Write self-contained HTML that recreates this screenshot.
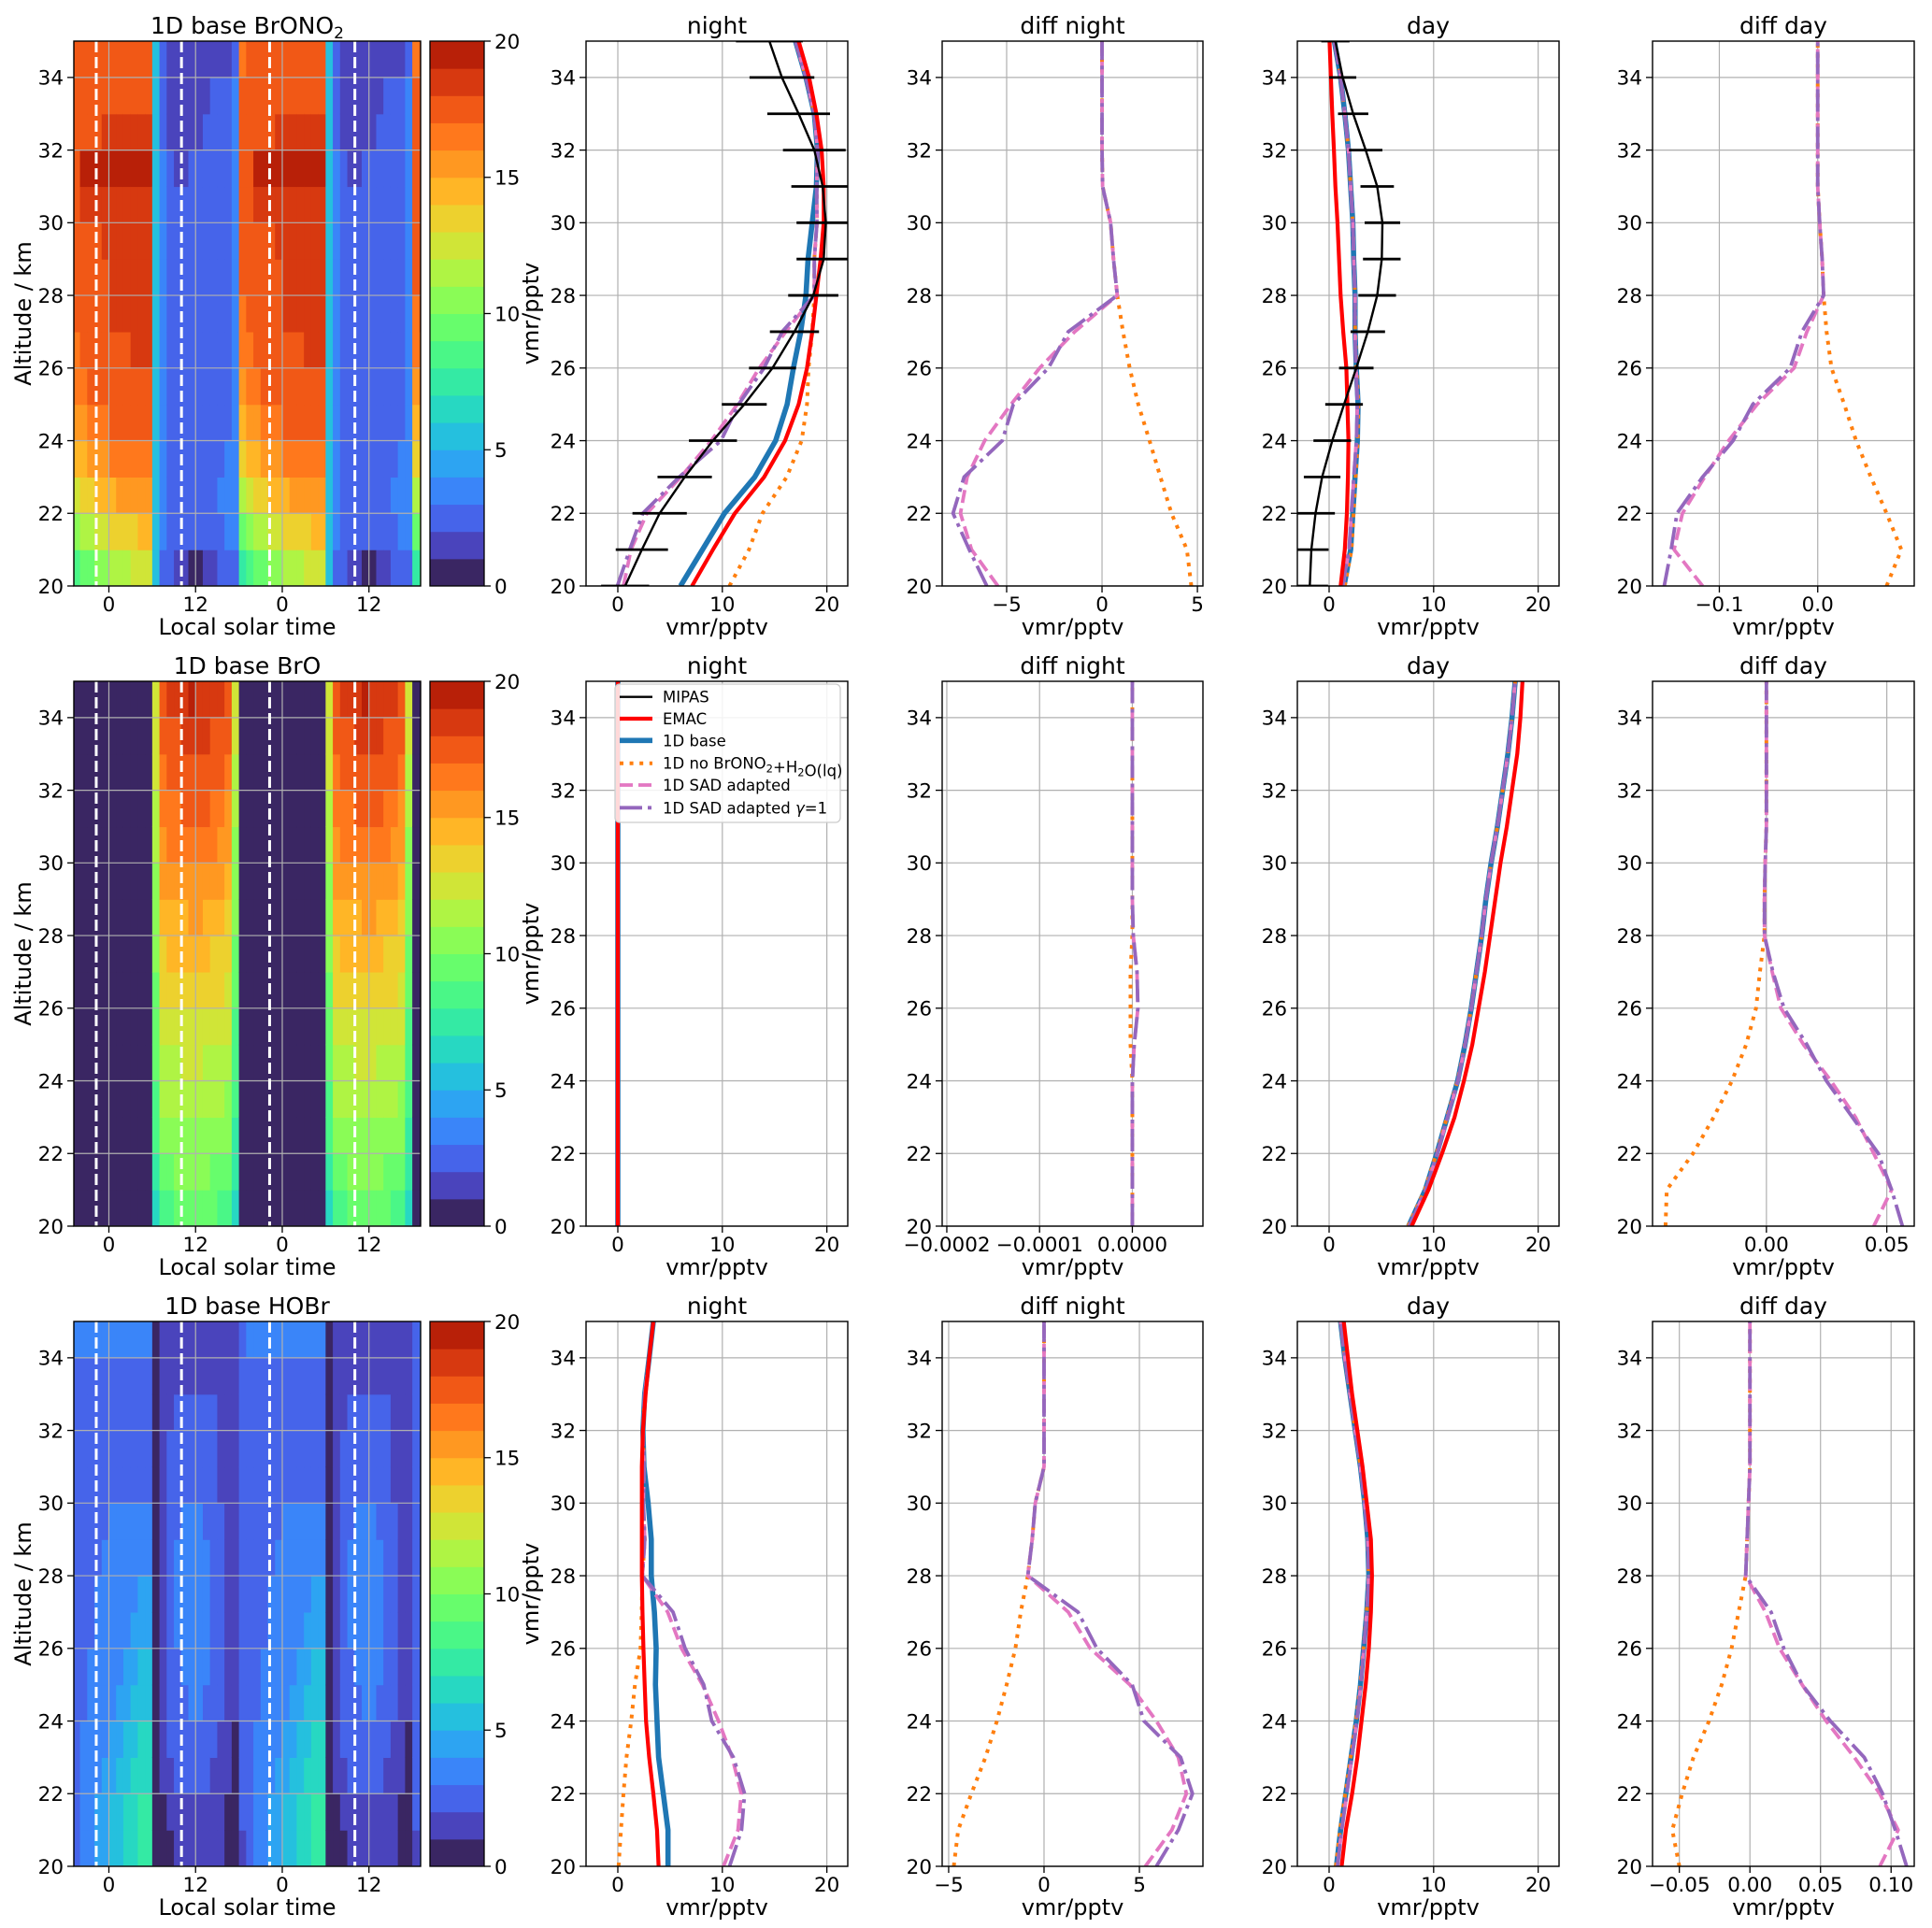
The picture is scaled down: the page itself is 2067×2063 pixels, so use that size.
<!DOCTYPE html>
<html><head><meta charset="utf-8"><title>Bromine profiles</title>
<style>
html,body{margin:0;padding:0;background:#fff;}
#fig{display:block;}
text{font-family:"DejaVu Sans","Liberation Sans",sans-serif;fill:#000;}
</style></head>
<body>
<svg id="fig" xmlns="http://www.w3.org/2000/svg" width="2067" height="2063" viewBox="0 0 2067 2063">
<rect x="0" y="0" width="2067" height="2063" fill="#fff"/>
</svg>
<script>
// ---------------- data ----------------
const alt = [20,21,22,23,24,25,26,27,28,29,30,31,32,33,34,35];
const speciesNames = ['BrONO2','BrO','HOBr'];

// BrONO2 night
const brono2NightMipas = [0.7,2.3,4.0,6.4,9.1,12.1,14.8,16.9,18.7,19.7,19.9,19.6,18.8,17.3,15.7,14.5];
const brono2NightMipasErr = [2.3,2.5,2.6,2.6,2.3,2.15,2.25,2.35,2.4,2.6,2.8,3.0,3.0,3.0,3.1,3.2];
const brono2NightEmac = [7.1,9.1,11.2,14.0,16.0,17.3,18.1,18.6,19.0,19.4,19.7,19.7,19.5,19.0,18.3,17.3];
const brono2NightBase = [6.0,8.1,10.2,13.1,15.1,16.2,16.8,17.5,18.0,18.2,18.6,19.0,19.1,18.8,18.0,17.0];
const brono2NightDiffNoH2O = [4.68,4.45,3.64,3.06,2.49,1.9,1.45,1.1,0.8,0.6,0.45,0.03,0,0,0,0];
const brono2NightDiffSad = [-5.46,-6.84,-7.42,-7.07,-6.15,-4.77,-3.27,-1.43,0.8,0.6,0.45,0.03,0,0,0,0];
const brono2NightDiffSadG1 = [-6.04,-6.96,-7.81,-7.23,-5.23,-4.65,-2.81,-1.77,0.8,0.6,0.45,0.03,0,0,0,0];
// BrONO2 day
const brono2DayMipas = [-1.85,-1.7,-1.3,-0.67,0.3,1.43,2.6,3.7,4.6,5.04,5.1,4.6,3.5,2.3,1.3,0.6];
const brono2DayMipasErr = [1.75,1.65,1.85,1.75,1.8,1.8,1.65,1.65,1.8,1.8,1.7,1.6,1.6,1.45,1.3,1.35];
const brono2DayEmac = [1.1,1.5,1.7,1.8,1.85,1.75,1.65,1.35,1.1,0.95,0.8,0.6,0.46,0.3,0.17,0.04];
const brono2DayBase = [1.43,2.06,2.27,2.48,2.7,2.77,2.6,2.48,2.48,2.35,2.27,2.06,1.85,1.5,1.1,0.5];
const brono2DayDiffNoH2O = [0.070,0.085,0.070,0.054,0.039,0.027,0.014,0.009,0.006,0.0045,0.002,0,0,0,0,0];
const brono2DayDiffSad = [-0.117,-0.146,-0.1375,-0.115,-0.0906,-0.0616,-0.024,-0.011,0.006,0.0045,0.002,0,0,0,0,0];
const brono2DayDiffSadG1 = [-0.156,-0.149,-0.143,-0.117,-0.086,-0.066,-0.028,-0.016,0.006,0.0045,0.002,0,0,0,0,0];

// BrO night
const broNightEmac = [0,0,0,0,0,0,0,0,0,0,0,0,0,0,0,0];
const broNightBase = [0,0,0,0,0,0,0,0,0,0,0,0,0,0,0,0];
const broNightDiffNoH2O = [0,0,0,0,0,-0.000002,-0.000002,-0.000002,0,0,0,0,0,0,0,0];
const broNightDiffSad = [0,0,0,0,0,0.000002,0.000006,0.000005,0.000001,0,0,0,0,0,0,0];
const broNightDiffSadG1 = [0,0,0,0,0,0.000002,0.000006,0.000005,0.000001,0,0,0,0,0,0,0];
// BrO day
const broDayEmac = [7.9,9.5,10.8,12.0,12.9,13.7,14.3,14.9,15.4,15.9,16.4,17.0,17.5,18.0,18.3,18.5];
const broDayBase = [7.6,9.2,10.3,11.3,12.3,13.0,13.6,14.1,14.6,15.0,15.5,16.1,16.6,17.1,17.5,17.8];
const broDayDiffNoH2O = [-0.0419,-0.0414,-0.0305,-0.0219,-0.0143,-0.0084,-0.0043,-0.0027,-0.0008,-0.0008,-0.0005,0,0,0,0,0];
const broDayDiffSad = [0.0446,0.052,0.0446,0.037,0.0268,0.0154,0.006,0.0024,-0.0008,-0.0008,-0.0005,0,0,0,0,0];
const broDayDiffSadG1 = [0.0565,0.052,0.0465,0.0357,0.0249,0.0168,0.0073,0.0027,-0.0008,-0.0008,-0.0005,0,0,0,0,0];

// HOBr night
const hobrNightEmac = [3.9,3.75,3.4,3.0,2.7,2.57,2.45,2.36,2.3,2.3,2.3,2.3,2.4,2.66,3.0,3.4];
const hobrNightBase = [4.8,4.8,4.35,3.9,3.75,3.6,3.67,3.5,3.2,3.2,2.9,2.5,2.4,2.57,3.0,3.4];
const hobrNightDiffNoH2O = [-4.73,-4.5,-3.81,-3.07,-2.47,-1.96,-1.5,-1.22,-0.85,-0.62,-0.46,0,0,0,0,0];
const hobrNightDiffSad = [5.31,6.7,7.46,7.04,5.89,4.5,2.42,1.27,-0.85,-0.62,-0.46,0,0,0,0,0];
const hobrNightDiffSadG1 = [5.89,7.04,7.78,7.16,5.24,4.62,2.77,1.78,-0.85,-0.62,-0.46,0,0,0,0,0];
// HOBr day
const hobrDayEmac = [1.2,1.6,2.2,2.7,3.1,3.5,3.8,4.0,4.1,4.0,3.6,3.2,2.7,2.2,1.8,1.4];
const hobrDayBase = [0.7,1.1,1.6,2.1,2.6,3.0,3.3,3.6,3.8,3.7,3.4,3.0,2.5,2.0,1.5,1.1];
const hobrDayDiffNoH2O = [-0.05,-0.055,-0.048,-0.04,-0.029,-0.02,-0.013,-0.008,-0.003,-0.002,-0.001,0,0,0,0,0];
const hobrDayDiffSad = [0.092,0.105,0.092,0.074,0.054,0.037,0.021,0.011,-0.003,-0.002,-0.001,0,0,0,0,0];
const hobrDayDiffSadG1 = [0.111,0.103,0.094,0.081,0.057,0.037,0.024,0.015,-0.003,-0.002,-0.001,0,0,0,0,0];

// diurnal contour fields: rows = altitude bins 20-21 ... 34-35, columns = local hour 0..23
const brono2Field = [
[11,11,11,12,12,12,5,2,2,1,1,0,0,1,1,2,2,2,7,8,9,9,10,10],
[13,13,13,13,14,14,5,3,2,2,2,2,2,2,2,2,3,3,9,10,11,11,12,12],
[14,15,15,15,15,15,5,3,2,2,2,2,2,2,2,3,3,3,11,12,13,13,14,14],
[16,16,16,16,16,16,5,3,2,2,2,2,2,2,2,2,3,3,13,14,14,15,15,15],
[17,17,17,17,17,17,5,3,2,2,2,2,2,2,2,2,2,3,14,15,15,16,16,16],
[17,17,17,17,17,17,5,3,2,2,2,2,2,2,2,2,2,3,15,16,16,17,17,17],
[17,17,17,18,18,18,5,3,2,2,2,2,2,2,2,2,2,3,16,16,17,17,17,17],
[18,18,18,18,18,18,5,3,2,2,2,2,2,2,2,2,2,3,16,17,17,17,17,17],
[18,18,18,18,18,18,5,3,2,2,2,2,2,2,2,2,2,3,17,17,17,17,17,17],
[18,18,18,18,18,18,5,3,2,2,2,2,2,2,2,2,2,3,17,17,17,17,17,18],
[18,18,18,18,18,18,5,3,2,2,2,2,2,2,2,2,2,3,17,17,18,18,18,18],
[19,19,19,19,19,19,5,3,2,1,1,2,2,2,2,2,2,3,17,17,19,19,19,19],
[18,18,18,18,18,18,5,2,1,1,1,1,1,2,2,2,2,3,17,17,17,17,17,18],
[17,17,17,17,17,17,5,2,1,1,1,1,1,1,2,2,2,3,17,17,17,17,17,17],
[17,17,17,17,17,17,5,2,1,1,1,1,1,1,1,1,1,2,16,17,17,17,17,17]];
const broField = [
[0,0,0,0,0,0,6,8,8,9,9,9,9,9,9,8,8,6,0,0,0,0,0,0],
[0,0,0,0,0,0,7,9,9,10,10,10,10,10,9,9,9,7,0,0,0,0,0,0],
[0,0,0,0,0,0,8,10,10,10,10,10,10,10,10,10,10,7,0,0,0,0,0,0],
[0,0,0,0,0,0,8,11,11,11,11,11,11,11,11,11,10,8,0,0,0,0,0,0],
[0,0,0,0,0,0,9,11,11,11,12,12,12,11,11,11,11,8,0,0,0,0,0,0],
[0,0,0,0,0,0,9,12,12,12,12,12,12,12,12,12,12,8,0,0,0,0,0,0],
[0,0,0,0,0,0,9,13,13,13,13,13,13,13,13,13,12,9,0,0,0,0,0,0],
[0,0,0,0,0,0,10,13,14,14,14,14,14,14,13,13,13,9,0,0,0,0,0,0],
[0,0,0,0,0,0,10,14,14,14,14,15,15,14,14,14,13,10,0,0,0,0,0,0],
[0,0,0,0,0,0,10,15,15,15,15,15,15,15,15,15,14,10,0,0,0,0,0,0],
[0,0,0,0,0,0,11,15,16,16,16,16,16,16,16,15,15,10,0,0,0,0,0,0],
[0,0,0,0,0,0,11,16,16,16,17,17,17,17,16,16,15,11,0,0,0,0,0,0],
[0,0,0,0,0,0,12,16,17,17,17,17,17,17,17,17,16,11,0,0,0,0,0,0],
[0,0,0,0,0,0,12,17,17,17,18,18,18,18,17,17,17,12,0,0,0,0,0,0],
[0,0,0,0,0,0,12,17,18,18,18,19,18,18,18,18,17,12,0,0,0,0,0,0]];
const hobrField = [
[5,5,6,6,7,7,0,0,0,1,1,1,1,1,1,1,0,0,1,2,3,3,4,4],
[5,5,6,6,7,7,0,0,1,1,1,1,1,1,1,1,0,0,2,2,3,3,4,4],
[4,5,5,6,6,6,0,1,1,2,2,2,2,2,1,1,1,0,2,2,3,3,3,4],
[4,4,5,5,6,6,0,1,2,2,2,2,2,2,2,1,1,0,2,2,3,3,3,3],
[3,4,4,5,5,5,0,1,2,2,2,3,3,2,2,2,1,1,2,2,2,3,3,3],
[3,3,4,4,5,5,0,1,2,2,3,3,3,3,2,2,1,1,2,2,2,3,3,3],
[3,3,3,4,4,4,0,1,2,3,3,3,3,3,2,2,1,1,2,2,2,2,3,3],
[3,3,3,3,4,4,0,1,2,3,3,3,3,3,2,2,1,1,2,2,2,2,3,3],
[3,3,3,3,3,3,0,1,2,3,3,3,3,3,2,2,1,1,2,2,2,2,2,3],
[3,3,3,3,3,3,0,1,2,2,3,3,3,2,2,2,1,1,2,2,2,2,2,2],
[2,2,2,2,2,2,0,1,2,2,2,2,2,2,2,1,1,1,2,2,2,2,2,2],
[2,2,2,2,2,2,0,1,2,2,2,2,2,2,2,1,1,1,2,2,2,2,2,2],
[2,2,2,2,2,2,0,1,1,2,2,2,2,2,2,1,1,1,2,2,2,2,2,2],
[2,2,2,2,2,2,0,1,1,1,1,1,1,1,1,1,1,1,2,2,2,2,2,2],
[3,3,3,3,3,3,0,1,1,1,1,1,1,1,1,1,1,1,2,3,3,3,3,3]];
const dashedTimes = [-1.75,10.05,22.25,34.05];
const timeTicks = [0,12,24,36];
const timeTickLabels = ['0','12','0','12'];
const altTicks = [20,22,24,26,28,30,32,34];
const cbarTicks = [0,5,10,15,20];
const profTicks = [0,10,20];
const dnTicksR1 = [-5,0,5], dnLabelsR1 = ['\u22125','0','5'];
const ddTicksR1 = [-0.1,0.0], ddLabelsR1 = ['\u22120.1','0.0'];
const dnTicksR2 = [-0.0002,-0.0001,0], dnLabelsR2 = ['\u22120.0002','\u22120.0001','0.0000'];
const ddTicksR2 = [0,0.05], ddLabelsR2 = ['0.00','0.05'];
const dnTicksR3 = [-5,0,5], dnLabelsR3 = ['\u22125','0','5'];
const ddTicksR3 = [-0.05,0,0.05,0.1], ddLabelsR3 = ['\u22120.05','0.00','0.05','0.10'];

// ---------------- layout ----------------
const NS = 'http://www.w3.org/2000/svg';
const svg = document.getElementById('fig');
const ROWS = [44,729,1414], AH = 583;
const COL = {contour:[79,450], cbar:[460,518], night:[627,907], dn:[1008,1287], day:[1388,1668], dd:[1768,2048]};
const TLIM = [-4.85,43.15];
const PLIM = [-3.04,22.0];
const DNLIM = [[-8.38,5.29],[-0.000205,0.0000761],[-5.34,8.33]];
const DDLIM = [[-0.1679,0.0981],[-0.0473,0.0614],[-0.069,0.1164]];
const C = {mipas:'#000000', emac:'#ff0000', base:'#1f77b4', noh2o:'#ff7f0e', sad:'#e377c2', sadg1:'#9467bd'};
let clipId = 0;

function el(tag, attrs, parent){
  const e = document.createElementNS(NS, tag);
  for (const k in attrs) e.setAttribute(k, attrs[k]);
  (parent || svg).appendChild(e);
  return e;
}
function turbo(t){
  t = Math.max(0, Math.min(1, t));
  const r = 0.13572138 + t*(4.61539260 + t*(-42.66032258 + t*(132.13108234 + t*(-152.94239396 + t*59.28637943))));
  const g = 0.09140261 + t*(2.19418839 + t*(4.84296658 + t*(-14.18503333 + t*(4.27729857 + t*2.82956604))));
  const b = 0.10667330 + t*(12.64194608 + t*(-60.58204836 + t*(110.36276771 + t*(-89.90310912 + t*27.34824973))));
  const c = v => Math.round(Math.max(0, Math.min(1, v))*255);
  return 'rgb(' + c(r) + ',' + c(g) + ',' + c(b) + ')';
}
function levelColor(i){ return turbo(0.025 + i * 0.046); }
function yScale(top){ return a => top + (35 - a) / 15 * AH; }
function xScale(col, lim){ return v => col[0] + (v - lim[0]) / (lim[1] - lim[0]) * (col[1] - col[0]); }

function text(str, x, y, size, anchor, parent){
  const t = el('text', {x:x, y:y, 'font-size':size, 'text-anchor':anchor || 'middle'}, parent);
  t.textContent = str;
  return t;
}
function makeClip(x0, y0, w, h){
  const id = 'clip' + (clipId++);
  const cp = el('clipPath', {id:id});
  el('rect', {x:x0, y:y0, width:w, height:h}, cp);
  return id;
}
function title(parts, cx, top, nm){
  const t = el('text', {x:cx, y:top - 8, 'font-size':25, 'text-anchor':'middle'});
  
  
  parts.forEach(p => {
    const s = el('tspan', p.sub ? {'font-size':17, dy:5} : {dy:0}, t);
    s.textContent = p.t;
  });
}
function yAxis(x0, top, g){
  const y = yScale(top);
  altTicks.forEach(a => {
    const tk = el('line', {x1:x0 - 7, x2:x0, y1:y(a), y2:y(a), stroke:'#000', 'stroke-width':1.3}, g);
    
    
    const lb = text(String(a), x0 - 11, y(a) + 7.8, 21.5, 'end', g);
    
    
  });
}
function xAxis(xs, ticks, labels, bottom, g){
  ticks.forEach((v, i) => {
    const x = xs(v);
    const tk = el('line', {x1:x, x2:x, y1:bottom, y2:bottom + 7, stroke:'#000', 'stroke-width':1.3}, g);
    
    
    const lb = text(labels[i], x, bottom + 27, 21.5, 'middle', g);
    
    
  });
}
function grid(col, top, xs, xticks, g){
  const y = yScale(top);
  xticks.forEach(v => {
    const ln = el('line', {x1:xs(v), x2:xs(v), y1:top, y2:top + AH, stroke:'#b0b0b0', 'stroke-width':1.2}, g);
    
    
  });
  altTicks.forEach(a => {
    const ln = el('line', {x1:col[0], x2:col[1], y1:y(a), y2:y(a), stroke:'#b0b0b0', 'stroke-width':1.2}, g);
    
    
  });
}
function frame(col, top, g){
  const f = el('rect', {x:col[0], y:top, width:col[1] - col[0], height:AH, fill:'none', stroke:'#000', 'stroke-width':1.4}, g);
  
  
}
const STYLE = {
  mipas:{w:2.4, dash:null},
  emac:{w:4.2, dash:null},
  base:{w:5.6, dash:null},
  noh2o:{w:4, dash:'4,6.6'},
  sad:{w:3.8, dash:'14,6'},
  sadg1:{w:3.8, dash:'24,6,4,6'}
};
function series(vals, key, xs, y, g, nm){
  const pts = vals.map((v, i) => xs(v).toFixed(2) + ',' + y(alt[i]).toFixed(2)).join(' ');
  const s = STYLE[key];
  const a = {points:pts, fill:'none', stroke:C[key], 'stroke-width':s.w, 'stroke-linejoin':'round'};
  if (s.dash) a['stroke-dasharray'] = s.dash;
  const p = el('polyline', a, g);
  
  
  return p;
}
function addArr(a, b){ return a.map((v, i) => v + b[i]); }

// ---------- contour panel ----------
function contourPanel(r, field, nameParts, sp){
  const top = ROWS[r], bottom = top + AH, col = COL.contour;
  const xs = xScale(col, TLIM), y = yScale(top);
  const g = el('g', {});
  
  
  const cid = makeClip(col[0], top, col[1] - col[0], AH);
  const fg = el('g', {'clip-path':'url(#' + cid + ')'}, g);
  for (let d = -1; d <= 1; d++){
    for (let h = 0; h < 24; h++){
      const x0 = xs(d*24 + h), x1 = xs(d*24 + h + 1);
      if (x1 < col[0] || x0 > col[1]) continue;
      for (let k = 0; k < field.length; k++){
        const v = field[k][h];
        const c = el('rect', {x:x0, y:y(21 + k), width:x1 - x0 + 0.6, height:y(20 + k) - y(21 + k) + 0.6, fill:levelColor(v)}, fg);
        
        
      }
    }
  }
  grid(col, top, xs, timeTicks, fg);
  dashedTimes.forEach(t => {
    const ln = el('line', {x1:xs(t), x2:xs(t), y1:top, y2:bottom, stroke:'#fff', 'stroke-width':3, 'stroke-dasharray':'12,5'}, fg);
    
    
  });
  frame(col, top, g);
  yAxis(col[0], top, g);
  xAxis(xs, timeTicks, timeTickLabels, bottom, g);
  const xl = text('Local solar time', (col[0] + col[1]) / 2, bottom + 52, 24, 'middle', g);
  
  
  const yl = el('text', {x:0, y:0, 'font-size':24, 'text-anchor':'middle', transform:'translate(33,' + (top + AH/2) + ') rotate(-90)'}, g);
  yl.textContent = 'Altitude / km';
  
  
  title(nameParts, (col[0] + col[1]) / 2, top, 'contour-title-' + sp);
  // colorbar
  const cb = COL.cbar;
  const cg = el('g', {}, g);
  
  
  const cy = v => bottom - v / 20 * AH;
  for (let i = 0; i < 20; i++){
    const b = el('rect', {x:cb[0], y:cy(i + 1), width:cb[1] - cb[0], height:cy(i) - cy(i + 1) + 0.5, fill:levelColor(i)}, cg);
    
    
  }
  el('rect', {x:cb[0], y:top, width:cb[1] - cb[0], height:AH, fill:'none', stroke:'#000', 'stroke-width':1.3}, cg);
  cbarTicks.forEach(v => {
    const tk = el('line', {x1:cb[1], x2:cb[1] + 7, y1:cy(v), y2:cy(v), stroke:'#000', 'stroke-width':1.3}, cg);
    
    
    const lb = text(String(v), cb[1] + 11, cy(v) + 7.8, 21.5, 'start', cg);
    
    
  });
  const cl = el('text', {x:0, y:0, 'font-size':24, 'text-anchor':'middle', transform:'translate(576,' + (top + AH/2) + ') rotate(-90)'}, cg);
  cl.textContent = 'vmr/pptv';
  
  
}

// ---------- profile panel ----------
function profilePanel(r, colKey, lim, ticks, labels, ttl, sp, lines){
  const top = ROWS[r], bottom = top + AH, col = COL[colKey];
  const xs = xScale(col, lim), y = yScale(top);
  const g = el('g', {});
  
  
  el('rect', {x:col[0], y:top, width:col[1] - col[0], height:AH, fill:'#fff'}, g);
  grid(col, top, xs, ticks, g);
  const cid = makeClip(col[0], top, col[1] - col[0], AH);
  const lg = el('g', {'clip-path':'url(#' + cid + ')'}, g);
  lines(xs, y, lg);
  frame(col, top, g);
  yAxis(col[0], top, g);
  xAxis(xs, ticks, labels, bottom, g);
  const xl = text('vmr/pptv', (col[0] + col[1]) / 2, bottom + 52, 24, 'middle', g);
  
  
  const t = text(ttl, (col[0] + col[1]) / 2, top - 8, 25, 'middle', g);
  
  
  return g;
}
function mipasDraw(vals, errs, xs, y, g){
  series(vals, 'mipas', xs, y, g, 'mipas-line');
  vals.forEach((v, i) => {
    const e = el('line', {x1:xs(v - errs[i]), x2:xs(v + errs[i]), y1:y(alt[i]), y2:y(alt[i]), stroke:'#000', 'stroke-width':2.8}, g);
    
    
  });
}
function modelLines(emac, base, dNo, dSad, dSadG1){
  return (xs, y, g) => {
    series(base, 'base', xs, y, g, 'base-line');
    series(addArr(base, dNo), 'noh2o', xs, y, g, 'no-brono2-hydrolysis-line');
    series(addArr(base, dSad), 'sad', xs, y, g, 'sad-adapted-line');
    series(addArr(base, dSadG1), 'sadg1', xs, y, g, 'sad-adapted-gamma1-line');
    series(emac, 'emac', xs, y, g, 'emac-line');
  };
}
function diffLines(dNo, dSad, dSadG1){
  return (xs, y, g) => {
    series(dNo, 'noh2o', xs, y, g, 'diff-no-brono2-hydrolysis-line');
    series(dSad, 'sad', xs, y, g, 'diff-sad-adapted-line');
    series(dSadG1, 'sadg1', xs, y, g, 'diff-sad-adapted-gamma1-line');
  };
}

// ---------- build ----------
// Row 1: BrONO2
contourPanel(0, brono2Field, [{t:'1D base BrONO'},{t:'2', sub:true}], 'brono2');
profilePanel(0, 'night', PLIM, profTicks, ['0','10','20'], 'night', 'brono2', (xs, y, g) => {
  modelLines(brono2NightEmac, brono2NightBase, brono2NightDiffNoH2O, brono2NightDiffSad, brono2NightDiffSadG1)(xs, y, g);
  mipasDraw(brono2NightMipas, brono2NightMipasErr, xs, y, g);
});
profilePanel(0, 'dn', DNLIM[0], dnTicksR1, dnLabelsR1, 'diff night', 'brono2', diffLines(brono2NightDiffNoH2O, brono2NightDiffSad, brono2NightDiffSadG1));
profilePanel(0, 'day', PLIM, profTicks, ['0','10','20'], 'day', 'brono2', (xs, y, g) => {
  modelLines(brono2DayEmac, brono2DayBase, brono2DayDiffNoH2O, brono2DayDiffSad, brono2DayDiffSadG1)(xs, y, g);
  mipasDraw(brono2DayMipas, brono2DayMipasErr, xs, y, g);
});
profilePanel(0, 'dd', DDLIM[0], ddTicksR1, ddLabelsR1, 'diff day', 'brono2', diffLines(brono2DayDiffNoH2O, brono2DayDiffSad, brono2DayDiffSadG1));

// Row 2: BrO
contourPanel(1, broField, [{t:'1D base BrO'}], 'bro');
profilePanel(1, 'night', PLIM, profTicks, ['0','10','20'], 'night', 'bro',
  modelLines(broNightEmac, broNightBase, broNightDiffNoH2O, broNightDiffSad, broNightDiffSadG1));
profilePanel(1, 'dn', DNLIM[1], dnTicksR2, dnLabelsR2, 'diff night', 'bro', diffLines(broNightDiffNoH2O, broNightDiffSad, broNightDiffSadG1));
profilePanel(1, 'day', PLIM, profTicks, ['0','10','20'], 'day', 'bro',
  modelLines(broDayEmac, broDayBase, broDayDiffNoH2O, broDayDiffSad, broDayDiffSadG1));
profilePanel(1, 'dd', DDLIM[1], ddTicksR2, ddLabelsR2, 'diff day', 'bro', diffLines(broDayDiffNoH2O, broDayDiffSad, broDayDiffSadG1));

// Row 3: HOBr
contourPanel(2, hobrField, [{t:'1D base HOBr'}], 'hobr');
profilePanel(2, 'night', PLIM, profTicks, ['0','10','20'], 'night', 'hobr',
  modelLines(hobrNightEmac, hobrNightBase, hobrNightDiffNoH2O, hobrNightDiffSad, hobrNightDiffSadG1));
profilePanel(2, 'dn', DNLIM[2], dnTicksR3, dnLabelsR3, 'diff night', 'hobr', diffLines(hobrNightDiffNoH2O, hobrNightDiffSad, hobrNightDiffSadG1));
profilePanel(2, 'day', PLIM, profTicks, ['0','10','20'], 'day', 'hobr',
  modelLines(hobrDayEmac, hobrDayBase, hobrDayDiffNoH2O, hobrDayDiffSad, hobrDayDiffSadG1));
profilePanel(2, 'dd', DDLIM[2], ddTicksR3, ddLabelsR3, 'diff day', 'hobr', diffLines(hobrDayDiffNoH2O, hobrDayDiffSad, hobrDayDiffSadG1));

// ---------- legend ----------
const legend = el('g', {});


const lbox = el('rect', {x:658, y:732, width:241, height:148, rx:5, fill:'#fff', 'fill-opacity':0.85, stroke:'#cccccc', 'stroke-width':1.3}, legend);


const legendKeys = ['mipas','emac','base','noh2o','sad','sadg1'];
const legendY = [745.7,769,792.3,816.7,840,864.3];
legendKeys.forEach((k, i) => {
  const s = STYLE[k];
  const a = {x1:663, x2:698, y1:legendY[i], y2:legendY[i], stroke:C[k], 'stroke-width':s.w};
  if (s.dash) a['stroke-dasharray'] = s.dash;
  const h = el('line', a, legend);
  
  
  const t = el('text', {x:709, y:legendY[i] + 6, 'font-size':16.5, 'text-anchor':'start'}, legend);
  
  
  if (k === 'mipas') t.textContent = 'MIPAS';
  if (k === 'emac') t.textContent = 'EMAC';
  if (k === 'base') t.textContent = '1D base';
  if (k === 'sad') t.textContent = '1D SAD adapted';
  if (k === 'noh2o'){
    const parts = [['1D no BrONO',0],['2',1],['+H',0],['2',1],['O(lq)',0]];
    parts.forEach(p => {
      const sp = el('tspan', p[1] ? {'font-size':11.5, dy:4} : {'font-size':16.5, dy:0}, t);
      sp.textContent = p[0];
      if (p[1]) { const back = el('tspan', {dy:-4, 'font-size':16.5}, t); back.textContent = ''; }
    });
  }
  if (k === 'sadg1'){
    const a1 = el('tspan', {}, t); a1.textContent = '1D SAD adapted ';
    const a2 = el('tspan', {'font-style':'italic'}, t); a2.textContent = '\u03b3';
    const a3 = el('tspan', {}, t); a3.textContent = '=1';
  }
});
</script>
</body></html>
